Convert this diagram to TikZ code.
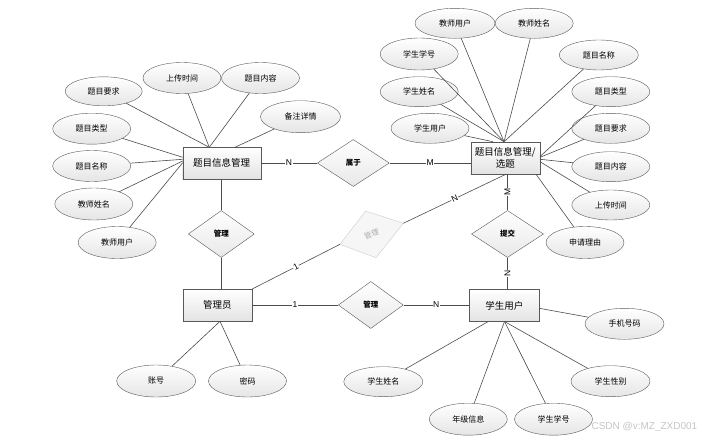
\documentclass[tikz,border=0pt]{standalone}
\usepackage{fontspec}
\setmainfont{Liberation Sans}
\newfontfamily\cjk{Noto Sans CJK SC}
\usetikzlibrary{shapes.geometric}
\begin{document}
\begin{tikzpicture}[x=1pt,y=-1pt,
 ent/.style={draw=gray!70!black, top color=white, bottom color=gray!22, minimum width=70pt, minimum height=32pt, inner sep=1pt, font=\cjk\fontsize{9.5}{12}\selectfont, align=center},
 attr/.style={ellipse, draw=gray!70!black, top color=white, bottom color=gray!20, minimum width=78pt, minimum height=31pt, inner sep=0pt, font=\cjk\fontsize{8}{9}\selectfont},
 rel/.style={diamond, draw=gray!70!black, top color=white, bottom color=gray!18, minimum width=66pt, minimum height=47pt, inner sep=0pt, font=\cjk\bfseries\fontsize{7.5}{9}\selectfont},
 ln/.style={draw=gray!60!black, line width=0.6pt},
 card/.style={fill=white, inner sep=0.6pt, font=\fontsize{8.5}{9}\selectfont}]
\fill[white] (0,0) rectangle (728,439);
\useasboundingbox (0,0) rectangle (728,439);

% entities
\node[ent, minimum width=78pt] (t1) at (221.7,163.2) {题目信息管理};
\node[ent, minimum width=69pt] (t2) at (505.3,158) {题目信息管理/\\选题};
\node[ent, minimum width=69pt] (m) at (217.3,305.3) {管理员};
\node[ent, minimum width=70pt] (s) at (504.3,305.5) {学生用户};

% relations
\node[rel, minimum width=72pt] (r1) at (353.3,163) {属于};
\node[rel] (r2) at (221.3,234) {管理};
\node[rel, minimum width=72pt] (r3) at (507.5,234) {提交};
\node[rel, minimum width=65pt] (r4) at (370.8,305) {管理};

% gray rotated relation
\coordinate (g1) at (365.7,211);
\coordinate (g2) at (403.3,223.3);
\coordinate (g3) at (376,257.7);
\coordinate (g4) at (340,244.3);
\filldraw[draw=gray!40, fill=gray!7] (g1) -- (g2) -- (g3) -- (g4) -- cycle;
\node[rotate=18, text=gray!65, font=\cjk\fontsize{7.5}{9}\selectfont] (gd) at (371.5,234) {管理};

% attributes of t1
\node[attr, minimum width=77pt, minimum height=29pt] (a1) at (103.7,91.3) {题目要求};
\node[attr] (a2) at (182,78) {上传时间};
\node[attr] (a3) at (260.5,78) {题目内容};
\node[attr, minimum width=80pt, minimum height=32pt] (a4) at (300.5,116.7) {备注详情};
\node[attr] (a5) at (91.7,128.7) {题目类型};
\node[attr] (a6) at (91.7,166) {题目名称};
\node[attr, minimum height=32pt] (a7) at (93.8,204) {教师姓名};
\node[attr, minimum height=32pt] (a8) at (117.2,242.5) {教师用户};

% attributes of t2
\node[attr, minimum width=80pt, minimum height=30pt] (b1) at (455,23.3) {教师用户};
\node[attr, minimum height=30pt] (b2) at (534.2,23.3) {教师姓名};
\node[attr, minimum height=32pt] (b3) at (419.2,54) {学生学号};
\node[attr, minimum width=79pt, minimum height=30pt] (b4) at (598.8,55) {题目名称};
\node[attr, minimum height=30pt] (b5) at (419.2,91.7) {学生姓名};
\node[attr, minimum height=30pt] (b6) at (610.8,91.7) {题目类型};
\node[attr, minimum height=30pt] (b7) at (430,128.3) {学生用户};
\node[attr, minimum height=30pt] (b8) at (610.8,128.3) {题目要求};
\node[attr, minimum height=30pt] (b9) at (610.8,166.7) {题目内容};
\node[attr, minimum height=30pt] (b10) at (610.8,205) {上传时间};
\node[attr, minimum height=32pt] (b11) at (585,242.5) {申请理由};

% attributes of m
\node[attr, minimum width=79pt, minimum height=32pt] (c1) at (156.2,381) {账号};
\node[attr, minimum height=32pt] (c2) at (247.5,381) {密码};

% attributes of s
\node[attr, minimum width=79pt, minimum height=30pt] (d1) at (383.3,381.7) {学生姓名};
\node[attr, minimum height=32pt] (d2) at (468.3,419.2) {年级信息};
\node[attr, minimum height=32pt] (d3) at (553.5,419.2) {学生学号};
\node[attr, minimum width=79pt] (d4) at (624.5,323.8) {手机号码};
\node[attr, minimum width=79pt] (d5) at (610.5,381.2) {学生性别};

% attachment points
\coordinate (p1t) at (209.3,147.3);
\coordinate (p1b) at (235,147.3);
\coordinate (p1l1) at (182.7,157.3);
\coordinate (p1l2) at (182.7,159.3);
\coordinate (p1l3) at (182.7,161);
\coordinate (p1l4) at (182.7,162.7);
\coordinate (p2t) at (504,141.7);
\coordinate (p2tl) at (493,141.7);
\coordinate (p2r1) at (540,156.5);
\coordinate (p2r2) at (540,157.3);
\coordinate (p2r3) at (540,159.3);
\coordinate (p2r4) at (540,161.7);
\coordinate (p2b) at (536,174.2);
\coordinate (p2bm) at (506,174.2);
\coordinate (pm) at (220,321.3);
\coordinate (ps1) at (488.3,321.5);
\coordinate (ps2) at (504.5,321.5);
\coordinate (ps3) at (539.3,308.3);

% attribute connectors
\foreach \a/\p in {a1/p1t,a2/p1t,a3/p1t,a4/p1b,a5/p1l1,a6/p1l2,a7/p1l3,a8/p1l4,
  b1/p2t,b2/p2t,b3/p2t,b4/p2t,b5/p2t,b7/p2tl,b6/p2r1,b8/p2r2,b9/p2r3,b10/p2r4,b11/p2b,
  c1/pm,c2/pm,d1/ps1,d2/ps2,d3/ps2,d5/ps2,d4/ps3}
  \draw[ln] (\a) -- (\p);

% relation connectors
\draw[ln] (t1.east |- r1.west) -- node[card]{N} (r1.west);
\draw[ln] (r1.east) -- node[card]{M} (r1.east -| t2.west);
\draw[ln] (r2.north) -- (r2.north |- t1.south);
\draw[ln] (r2.south) -- (r2.south |- m.north);
\draw[ln] (r3.north |- t2.south) -- node[card, rotate=90]{M} (r3.north);
\draw[ln] (r3.south) -- node[card, rotate=90]{N} (r3.south |- s.north);
\draw[ln] (m.east |- r4.west) -- node[card]{1} (r4.west);
\draw[ln] (r4.east) -- node[card]{N} (r4.east -| s.west);
\draw[ln] (m.north east) -- node[card, rotate=27]{1} (g4);
\draw[ln] (g2) -- node[card, rotate=25]{N} (p2bm);

% watermark
\node[text=gray!45, font=\fontsize{10}{12}\selectfont, anchor=west] (wm) at (588,427) {CSDN @v:MZ\_ZXD001};
\end{tikzpicture}
\end{document}
